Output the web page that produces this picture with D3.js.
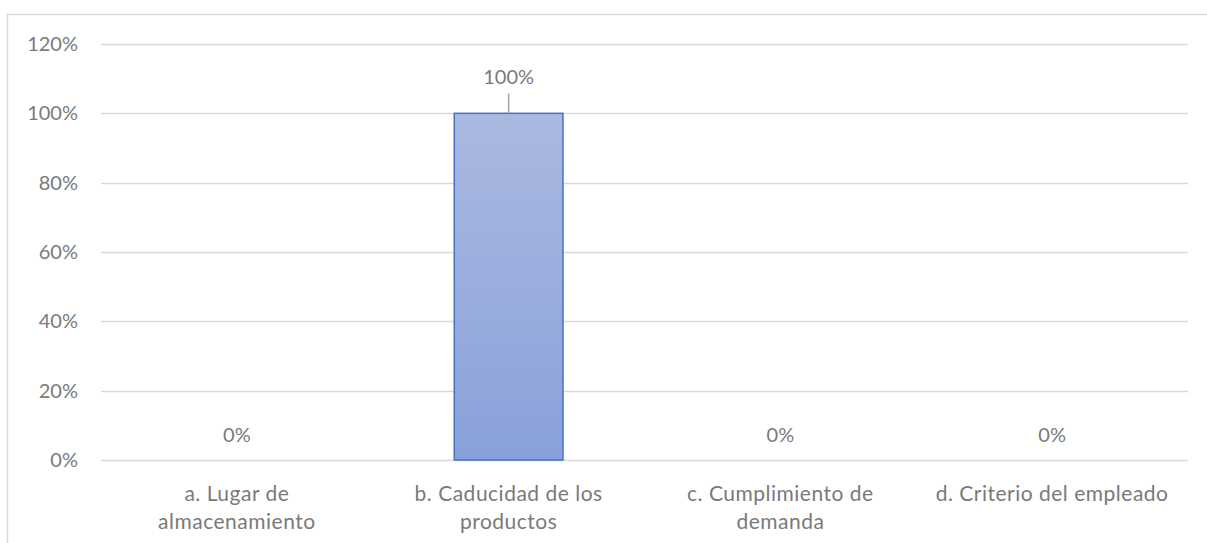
<!DOCTYPE html>
<html>
<head>
<meta charset="utf-8">
<script src="https://cdn.jsdelivr.net/npm/d3@7"></script>
<style>
  html, body { margin: 0; padding: 0; background: #fff; }
  svg { display: block; font-family: Lato, "Open Sans", sans-serif; }
</style>
</head>
<body>
<svg id="chart" width="1207" height="543"></svg>
<script>
// Categories (each label split into its display lines)
const categories = [
  "a. Lugar de almacenamiento",
  "b. Caducidad de los productos",
  "c. Cumplimiento de demanda",
  "d. Criterio del empleado"
];
const categoryLines = [
  ["a. Lugar de", "almacenamiento"],
  ["b. Caducidad de los", "productos"],
  ["c. Cumplimiento de", "demanda"],
  ["d. Criterio del empleado"]
];
// Share of responses per category
const values = [0, 1, 0, 0];
// Y axis ticks
const yTicks = [0, 0.2, 0.4, 0.6, 0.8, 1.0, 1.2];

const svg = d3.select("#chart");
const margin = { left: 101, right: 19, top: 44, bottom: 83 };
const W = 1207, H = 543;

const x = d3.scaleBand()
  .domain(categories)
  .range([margin.left, W - margin.right])
  .paddingInner(0.6)
  .paddingOuter(0.3);

const y = d3.scaleLinear()
  .domain([0, 1.2])
  .range([H - margin.bottom, margin.top]);

const fmt = d3.format(".0%");
const textColor = "#7a7a7a";
const numSize = "20px";
const catSize = "21px";

// Chart area border (top and left edges visible)
svg.append("rect")
  .attr("x", 7.5).attr("y", 14.5)
  .attr("width", 1300).attr("height", 600)
  .attr("fill", "none")
  .attr("stroke", "#d9d9d9")
  .attr("stroke-width", 1.5);

// Gridlines
svg.append("g")
  .selectAll("line")
  .data(yTicks)
  .join("line")
  .attr("x1", margin.left)
  .attr("x2", W - margin.right)
  .attr("y1", d => Math.round(y(d)) + 0.5)
  .attr("y2", d => Math.round(y(d)) + 0.5)
  .attr("stroke", "#d9d9d9")
  .attr("stroke-width", 1.5);

// Y axis labels
const yAxis = d3.axisLeft(y).tickValues(yTicks).tickFormat(fmt).tickSize(0).tickPadding(0);
const gy = svg.append("g")
  .attr("transform", `translate(78,0)`)
  .call(yAxis);
gy.select(".domain").remove();
gy.selectAll("text")
  .attr("fill", textColor)
  .style("font-size", numSize)
  .style("font-family", "Lato, sans-serif");

// Bar gradient
const defs = svg.append("defs");
const grad = defs.append("linearGradient")
  .attr("id", "barGrad")
  .attr("x1", 0).attr("y1", 0).attr("x2", 0).attr("y2", 1);
grad.append("stop").attr("offset", "0%").attr("stop-color", "#abb9e1");
grad.append("stop").attr("offset", "100%").attr("stop-color", "#89a1da");

// Bars
svg.append("g")
  .selectAll("rect")
  .data(values.map((v, i) => ({ v, c: categories[i] })))
  .join("rect")
  .filter(d => d.v > 0)
  .attr("x", d => x(d.c))
  .attr("y", d => y(d.v))
  .attr("width", x.bandwidth())
  .attr("height", d => y(0) - y(d.v))
  .attr("fill", "url(#barGrad)")
  .attr("stroke", "#4472c4")
  .attr("stroke-width", 1.5);

// Data labels
const labels = svg.append("g");
values.forEach((v, i) => {
  const cx = x(categories[i]) + x.bandwidth() / 2;
  if (v > 0) {
    // leader line from label to bar top
    labels.append("line")
      .attr("x1", cx).attr("x2", cx)
      .attr("y1", y(v) - 20).attr("y2", y(v))
      .attr("stroke", "#a6a6a6")
      .attr("stroke-width", 1.5);
    labels.append("text")
      .attr("x", cx).attr("y", y(v) - 37)
      .attr("text-anchor", "middle")
      .attr("dominant-baseline", "central")
      .attr("fill", textColor)
      .style("font-size", numSize)
      .text(fmt(v));
  } else {
    labels.append("text")
      .attr("x", cx).attr("y", y(v) - 26)
      .attr("text-anchor", "middle")
      .attr("dominant-baseline", "central")
      .attr("fill", textColor)
      .style("font-size", numSize)
      .text(fmt(v));
  }
});

// Category labels
const cat = svg.append("g");
categories.forEach((c, i) => {
  const cx = x(c) + x.bandwidth() / 2;
  categoryLines[i].forEach((line, j) => {
    cat.append("text")
      .attr("x", cx)
      .attr("y", y(0) + 32 + j * 28)
      .attr("text-anchor", "middle")
      .attr("dominant-baseline", "central")
      .attr("fill", textColor)
      .style("font-size", catSize)
      .style("letter-spacing", "0.5px")
      .text(line);
  });
});
</script>
</body>
</html>
